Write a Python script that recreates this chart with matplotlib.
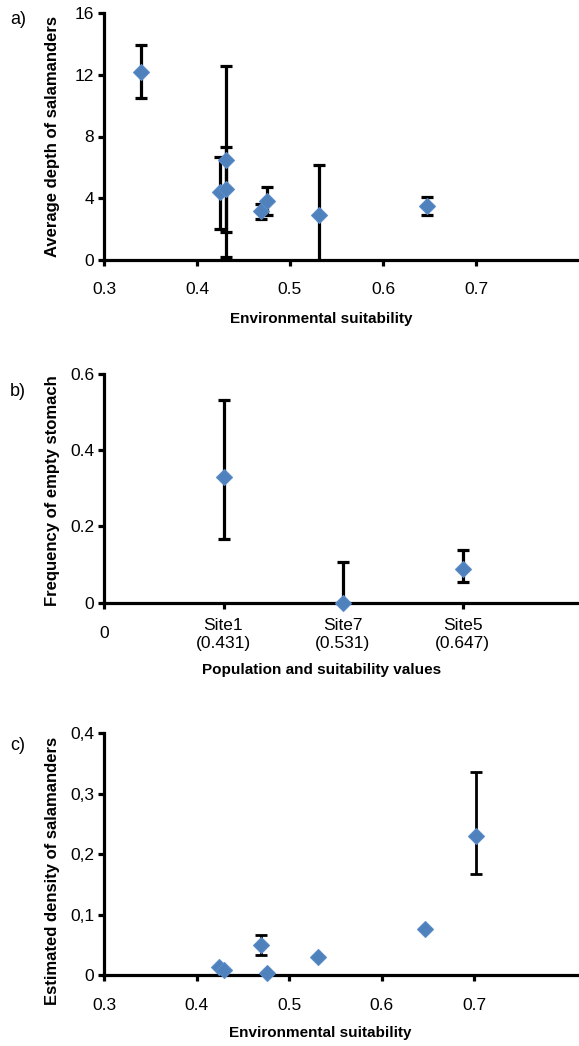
import matplotlib
matplotlib.use("Agg")
import matplotlib.pyplot as plt
from matplotlib.transforms import ScaledTranslation
import numpy as np

plt.rcParams['font.family'] = ['Liberation Sans', 'DejaVu Sans']

# panel a: depth vs suitability
a_x = [0.34, 0.425, 0.431, 0.431, 0.469, 0.475, 0.531, 0.647]
a_y = [12.2, 4.4, 4.6, 6.5, 3.2, 3.85, 2.9, 3.5]
a_lo = [10.5, 2.0, 1.8, 0.2, 2.65, 2.9, -0.3, 2.9]
a_hi = [13.9, 6.7, 7.35, 12.55, 3.6, 4.75, 6.15, 4.05]

# panel b: empty stomach frequency per site
b_labels = ["0", "Site1\n(0.431)", "Site7\n(0.531)", "Site5\n(0.647)"]
b_y = [0.331, 0.0, 0.088]
b_lo = [0.168, 0.0, 0.054]
b_hi = [0.532, 0.106, 0.138]

# panel c: density vs suitability
c_x = [0.424, 0.430, 0.470, 0.476, 0.531, 0.647, 0.702]
c_y = [0.013, 0.008, 0.050, 0.004, 0.031, 0.076, 0.230]
c_lo = [0.013, 0.008, 0.034, 0.004, 0.031, 0.076, 0.167]
c_hi = [0.013, 0.008, 0.066, 0.004, 0.031, 0.076, 0.336]

blue = '#4F81BD'
W, H = 579, 1046
fig = plt.figure(figsize=(W / 100, H / 100), dpi=100)
TICK = 12.5
LAB = 12


def frame(ax):
    for s in ['top', 'right']:
        ax.spines[s].set_visible(False)
    for s in ['left', 'bottom']:
        ax.spines[s].set_linewidth(2.3)
    ax.tick_params(direction='out', length=4, width=2.3, labelsize=TICK, pad=3)


def draw(ax, x, y, lo, hi, lw):
    y = np.array(y)
    err = [y - np.array(lo), np.array(hi) - y]
    ax.errorbar(x, y, yerr=err, fmt='none', ecolor='black', elinewidth=lw,
                capsize=4, capthick=lw, zorder=3)
    ax.plot(x, y, 'D', color=blue, ms=8, mec='#5B8CC8', mew=0.8,
            clip_on=False, zorder=5)


def box(top, bottom):
    return [104 / W, 1 - bottom / H, 475 / W, (bottom - top) / H]


# a)
ax1 = fig.add_axes(box(13, 260))
frame(ax1)
draw(ax1, a_x, a_y, a_lo, a_hi, 2.3)
ax1.set_xlim(0.3, 0.3 + 475 / 930)
ax1.set_ylim(0, 16)
ax1.set_xticks([0.3, 0.4, 0.5, 0.6, 0.7])
ax1.set_xticklabels(['0.3', '0.4', '0.5', '0.6', '0.7'])
ax1.set_yticks([0, 4, 8, 12, 16])
ax1.tick_params(axis='x', pad=12)
ax1.set_ylabel('Average depth of salamanders', fontsize=LAB, fontweight='bold')
ax1.yaxis.set_label_coords(-0.092, 0.5)
ax1.set_xlabel('Environmental suitability', fontsize=11, fontweight='bold')
ax1.xaxis.set_label_coords(0.457, -0.212)
fig.text(10 / W, 1 - 20 / H, 'a)', fontsize=13, va='center')

# b)
ax2 = fig.add_axes(box(374, 602.7))
frame(ax2)
draw(ax2, [1, 2, 3], b_y, b_lo, b_hi, 2.3)
ax2.set_xlim(0, 475 / 119.5)
ax2.set_ylim(0, 0.6)
ax2.set_xticks([0, 1, 2, 3])
ax2.set_xticklabels(b_labels, linespacing=1.25)
ax2.set_yticks([0, 0.2, 0.4, 0.6])
ax2.set_yticklabels(['0', '0.2', '0.4', '0.6'])
ax2.tick_params(axis='x', pad=7)
zero = ax2.get_xticklabels()[0]
zero.set_transform(zero.get_transform() + ScaledTranslation(0, -0.08, fig.dpi_scale_trans))
ax2.set_ylabel('Frequency of empty stomach', fontsize=LAB, fontweight='bold')
ax2.yaxis.set_label_coords(-0.092, 0.49)
ax2.set_xlabel('Population and suitability values', fontsize=11, fontweight='bold')
ax2.xaxis.set_label_coords(0.457, -0.262)
fig.text(10 / W, 1 - 392 / H, 'b)', fontsize=13, va='center')

# c)
ax3 = fig.add_axes(box(733.3, 975.3))
frame(ax3)
draw(ax3, c_x, c_y, c_lo, c_hi, 2.0)
ax3.set_xlim(0.3, 0.3 + 475 / 925)
ax3.set_ylim(0, 0.4)
ax3.set_xticks([0.3, 0.4, 0.5, 0.6, 0.7])
ax3.set_xticklabels(['0.3', '0.4', '0.5', '0.6', '0.7'])
ax3.set_yticks([0, 0.1, 0.2, 0.3, 0.4])
ax3.set_yticklabels(['0', '0,1', '0,2', '0,3', '0,4'])
ax3.tick_params(axis='x', pad=12)
ax3.set_ylabel('Estimated density of salamanders', fontsize=LAB, fontweight='bold')
ax3.yaxis.set_label_coords(-0.092, 0.43)
ax3.set_xlabel('Environmental suitability', fontsize=11, fontweight='bold')
ax3.xaxis.set_label_coords(0.455, -0.21)
fig.text(10 / W, 1 - 745 / H, 'c)', fontsize=13, va='center')

fig.savefig('out.png', dpi=100)
